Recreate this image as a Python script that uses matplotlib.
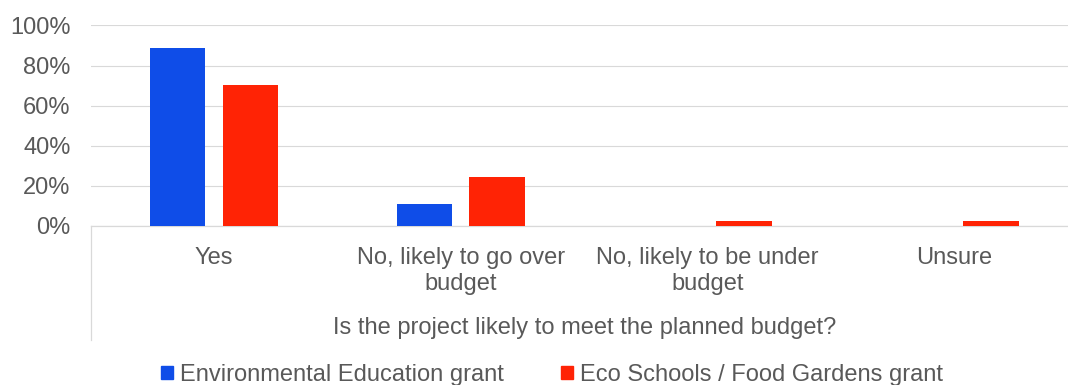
import numpy
import matplotlib
matplotlib.use('Agg')
from matplotlib import pyplot
from matplotlib.patches import Rectangle

# survey answers, share of respondents per grant (%)
categories = ['Yes', 'No, likely to go over\nbudget', 'No, likely to be under\nbudget', 'Unsure']
env_edu = [88.9, 11.1, 0.0, 0.0]
eco_schools = [70.3, 24.3, 2.7, 2.7]
series_names = ['Environmental Education grant', 'Eco Schools / Food Gardens grant']
yticks = [0, 20, 40, 60, 80, 100]
xtitle = 'Is the project likely to meet the planned budget?'

blue = '#0F4DE8'
red = '#FF2305'
grey_text = '#595959'
grey_line = '#D9D9D9'

pyplot.rcParams['font.family'] = ['Liberation Sans', 'DejaVu Sans']
pyplot.rcParams['font.size'] = 17

fig = pyplot.figure(figsize=(10.68, 3.85), dpi=100)
ax = fig.add_axes([0.0848, 0.413, 0.9245, 0.521])

x = numpy.arange(len(categories))
width = 0.225
offset = 0.1475

# plot data
ax.bar(x - offset, env_edu, width, color=blue, zorder=3)
ax.bar(x + offset, eco_schools, width, color=red, zorder=3)

# set axes limits
ax.set_xlim(-0.5, len(categories) - 0.5)
ax.set_ylim(0, 100)

ax.set_yticks(yticks)
ax.set_yticklabels(['%d%%' % v for v in yticks], color=grey_text)
ax.set_xticks(x)
ax.set_xticklabels(categories, color=grey_text, linespacing=1.22)
ax.tick_params(axis='both', length=0)
ax.tick_params(axis='y', pad=14.4)
ax.tick_params(axis='x', pad=15)

ax.set_xlabel(xtitle, color=grey_text, labelpad=16)

ax.yaxis.grid(True, color=grey_line, linewidth=0.8)
ax.set_axisbelow(True)
for side in ['top', 'right', 'left']:
    ax.spines[side].set_visible(False)
ax.spines['bottom'].set_color(grey_line)
ax.spines['bottom'].set_linewidth(0.9)

# left border of the category axis area
ax.plot([0, 0], [0, -0.567], transform=ax.transAxes, color=grey_line,
        linewidth=0.9, clip_on=False)

# legend
handles = [Rectangle((0, 0), 1, 1, color=blue), Rectangle((0, 0), 1, 1, color=red)]
leg = fig.legend(handles, series_names, loc='center', bbox_to_anchor=(0.517, 0.026),
                 ncol=2, frameon=False, borderpad=0, handlelength=0.5, handleheight=0.5,
                 handletextpad=0.3, columnspacing=2.4)
for t in leg.get_texts():
    t.set_color(grey_text)

fig.savefig('out.png', dpi=100)
